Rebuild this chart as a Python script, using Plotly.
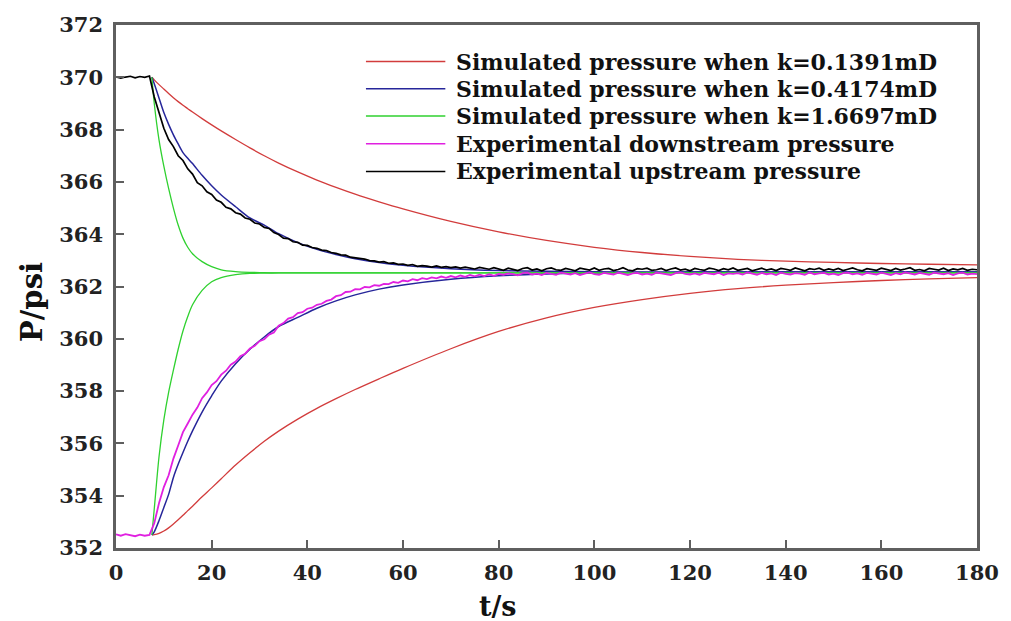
import plotly.graph_objects as go

# ---- simulated curves (time grid shared by all simulations) ----
t_sim = [7.5, 8, 9, 10, 11, 12, 13, 14, 15, 16, 18, 20, 22, 25, 28, 31, 34, 38, 42, 46,
         50, 55, 60, 70, 80, 90, 100, 110, 120, 130, 140, 150, 160, 170, 180]

k0139_up = [370.0, 369.9, 369.72, 369.55, 369.38, 369.22, 369.07, 368.93, 368.8, 368.67,
            368.42, 368.18, 367.95, 367.62, 367.3, 367.0, 366.72, 366.38, 366.07, 365.79,
            365.53, 365.24, 364.97, 364.49, 364.09, 363.76, 363.5, 363.3, 363.15, 363.04,
            362.97, 362.92, 362.88, 362.85, 362.83]
k0139_down = [352.5, 352.51, 352.56, 352.65, 352.77, 352.92, 353.08, 353.25, 353.43, 353.6,
              353.96, 354.3, 354.65, 355.17, 355.64, 356.08, 356.47, 356.93, 357.34, 357.71,
              358.06, 358.47, 358.87, 359.62, 360.28, 360.8, 361.2, 361.5, 361.74, 361.92,
              362.05, 362.15, 362.23, 362.29, 362.34]

k0417_up = [370.0, 369.75, 369.2, 368.65, 368.2, 367.8, 367.45, 367.12, 366.9, 366.7,
            366.25, 365.85, 365.5, 365.05, 364.62, 364.35, 364.02, 363.68, 363.42, 363.22,
            363.06, 362.92, 362.81, 362.68, 362.61, 362.58, 362.56, 362.55, 362.55, 362.55,
            362.55, 362.55, 362.55, 362.55, 362.55]
k0417_down = [352.5, 352.62, 353.05, 353.55, 354.05, 354.7, 355.2, 355.65, 356.08, 356.48,
              357.2, 357.82, 358.38, 359.05, 359.6, 360.07, 360.47, 360.82, 361.17, 361.45,
              361.68, 361.9, 362.06, 362.28, 362.41, 362.48, 362.52, 362.54, 362.55, 362.55,
              362.55, 362.55, 362.55, 362.55, 362.55]

k1670_up = [370.0, 369.0, 367.6, 366.6, 365.75, 365.0, 364.35, 363.85, 363.5, 363.25,
            362.95, 362.76, 362.64, 362.57, 362.54, 362.53, 362.52, 362.52, 362.52, 362.52,
            362.52, 362.52, 362.52, 362.52, 362.52, 362.52, 362.52, 362.52, 362.52, 362.52,
            362.52, 362.52, 362.52, 362.52, 362.52]
k1670_down = [352.5, 353.5, 355.5, 356.9, 357.95, 358.8, 359.6, 360.3, 360.85, 361.3,
              361.85, 362.18, 362.34, 362.45, 362.5, 362.51, 362.52, 362.52, 362.52, 362.52,
              362.52, 362.52, 362.52, 362.52, 362.52, 362.52, 362.52, 362.52, 362.52, 362.52,
              362.52, 362.52, 362.52, 362.52, 362.52]

# ---- measured pressures, sampled every second ----
t_exp = list(range(0, 181))

upstream_exp = [
    370.02, 369.97, 370.01, 370.04, 369.98, 370.03, 370.0, 370.05, 369.25, 368.62,
    368.05, 367.62, 367.35, 367.0, 366.82, 366.5, 366.3, 365.97, 365.85, 365.62,
    365.52, 365.31, 365.22, 365.03, 364.97, 364.82, 364.77, 364.62, 364.57, 364.43,
    364.39, 364.26, 364.22, 364.06, 363.99, 363.85, 363.83, 363.71, 363.69, 363.58,
    363.57, 363.49, 363.46, 363.39, 363.37, 363.3, 363.27, 363.21, 363.2, 363.12,
    363.1, 363.06, 363.05, 362.99, 362.98, 362.93, 362.95, 362.89, 362.9, 362.85,
    362.86, 362.81, 362.84, 362.77, 362.8, 362.78, 362.74, 362.79, 362.73, 362.76,
    362.72, 362.75, 362.7, 362.74, 362.71, 362.67, 362.73, 362.69, 362.66, 362.72,
    362.68, 362.62, 362.7, 362.66, 362.61, 362.69, 362.72, 362.63, 362.67, 362.6,
    362.68, 362.71, 362.64, 362.62, 362.69, 362.65, 362.6, 362.7, 362.66, 362.63,
    362.71, 362.62, 362.67, 362.69, 362.61, 362.65, 362.72, 362.63, 362.6, 362.68,
    362.66, 362.7, 362.62, 362.64, 362.69, 362.61, 362.67, 362.71, 362.63, 362.66,
    362.6, 362.69, 362.65, 362.62, 362.7, 362.67, 362.61, 362.68, 362.64, 362.71,
    362.62, 362.66, 362.69, 362.6, 362.65, 362.7, 362.63, 362.67, 362.61, 362.69,
    362.66, 362.62, 362.71, 362.64, 362.6, 362.68, 362.65, 362.7, 362.62, 362.67,
    362.63, 362.69, 362.61, 362.66, 362.71, 362.64, 362.6, 362.68, 362.65, 362.62,
    362.7, 362.66, 362.61, 362.69, 362.63, 362.67, 362.72, 362.62, 362.65, 362.6,
    362.69, 362.66, 362.63, 362.7, 362.61, 362.67, 362.64, 362.69, 362.62, 362.66,
    362.64]

downstream_exp = [
    352.52, 352.47, 352.53, 352.48, 352.45, 352.51, 352.47, 352.5, 352.95, 353.72,
    354.33, 354.78, 355.42, 355.92, 356.43, 356.76, 357.1, 357.37, 357.73, 357.95,
    358.23, 358.38, 358.63, 358.78, 359.01, 359.13, 359.33, 359.43, 359.63, 359.73,
    359.91, 359.98, 360.16, 360.24, 360.5, 360.6, 360.77, 360.83, 360.98, 361.02,
    361.15, 361.19, 361.3, 361.34, 361.45, 361.5, 361.63, 361.67, 361.79, 361.8,
    361.9, 361.89, 361.98, 361.97, 362.05, 362.03, 362.1, 362.09, 362.17, 362.14,
    362.23, 362.2, 362.28, 362.24, 362.32, 362.28, 362.35, 362.31, 362.38, 362.33,
    362.4, 362.35, 362.42, 362.37, 362.44, 362.39, 362.45, 362.4, 362.47, 362.41,
    362.48, 362.45, 362.5, 362.47, 362.43, 362.51, 362.53, 362.46, 362.49, 362.44,
    362.52, 362.48, 362.45, 362.53, 362.5, 362.46, 362.51, 362.44, 362.49, 362.54,
    362.47, 362.45, 362.52, 362.49, 362.46, 362.53, 362.48, 362.44, 362.5, 362.52,
    362.46, 362.49, 362.45, 362.53, 362.5, 362.47, 362.44, 362.51, 362.54, 362.48,
    362.46, 362.5, 362.45, 362.52, 362.49, 362.47, 362.53, 362.44, 362.5, 362.48,
    362.51, 362.46, 362.54, 362.49, 362.45, 362.52, 362.47, 362.5, 362.44, 362.53,
    362.48, 362.46, 362.51, 362.49, 362.45, 362.54, 362.47, 362.5, 362.52, 362.46,
    362.49, 362.44, 362.51, 362.53, 362.47, 362.5, 362.45, 362.52, 362.48, 362.46,
    362.53, 362.49, 362.44, 362.51, 362.47, 362.54, 362.5, 362.46, 362.52, 362.48,
    362.45, 362.53, 362.49, 362.47, 362.51, 362.44, 362.5, 362.53, 362.46, 362.49,
    362.47]

legend_labels = [
    "Simulated pressure when k=0.1391mD",
    "Simulated pressure when k=0.4174mD",
    "Simulated pressure when k=1.6697mD",
    "Experimental downstream pressure",
    "Experimental upstream pressure",
]
x_ticks = [0, 20, 40, 60, 80, 100, 120, 140, 160, 180]
y_ticks = [352, 354, 356, 358, 360, 362, 364, 366, 368, 370, 372]

RED, BLUE, GREEN, MAGENTA, BLACK = "#d23c3c", "#26269a", "#2fd12f", "#e020e0", "#000000"
AXIS = "#5f5f5f"
FONT = "DejaVu Serif"

fig = go.Figure()

sim_sets = [
    (k0139_up, k0139_down, RED, legend_labels[0], 1.3),
    (k0417_up, k0417_down, BLUE, legend_labels[1], 1.5),
    (k1670_up, k1670_down, GREEN, legend_labels[2], 1.3),
]
for up, down, color, name, w in sim_sets:
    for ys in (up, down):
        fig.add_trace(go.Scatter(x=t_sim, y=ys, mode="lines", name=name, legendgroup=name,
                                 line=dict(color=color, width=w, shape="spline", smoothing=0.8),
                                 showlegend=False))

fig.add_trace(go.Scatter(x=t_exp, y=downstream_exp, mode="lines", name=legend_labels[3],
                         line=dict(color=MAGENTA, width=1.8), showlegend=False))
fig.add_trace(go.Scatter(x=t_exp, y=upstream_exp, mode="lines", name=legend_labels[4],
                         line=dict(color=BLACK, width=1.7), showlegend=False))

# legend drawn as short line samples with labels inside the plot area
legend_colors = [RED, BLUE, GREEN, MAGENTA, BLACK]
legend_rows = [0.930, 0.878, 0.826, 0.773, 0.720]
for label, color, yr in zip(legend_labels, legend_colors, legend_rows):
    fig.add_shape(type="line", xref="paper", yref="paper", x0=0.2903, x1=0.3825, y0=yr, y1=yr,
                  line=dict(color=color, width=1.5))
    fig.add_annotation(xref="paper", yref="paper", x=0.3929, y=yr, text=label, showarrow=False,
                       xanchor="left", yanchor="middle",
                       font=dict(family=FONT, size=22, color="#111111", weight="bold"))

# axis titles
fig.add_annotation(xref="paper", yref="paper", x=(501 - 116) / 868, y=(548 - 607) / 528,
                   text="t/s", showarrow=False, xanchor="center", yanchor="middle",
                   font=dict(family=FONT, size=27, color="#111111", weight="bold"))
fig.add_annotation(xref="paper", yref="paper", x=(32 - 116) / 868, y=(548 - 300) / 528,
                   text="P/psi", showarrow=False, textangle=-90, xanchor="center", yanchor="middle",
                   font=dict(family=FONT, size=29, color="#111111", weight="bold"))

axis_common = dict(showgrid=False, zeroline=False, showline=True, linecolor=AXIS, linewidth=2.5,
                   mirror=True, ticks="inside", ticklen=8, tickwidth=2, tickcolor=AXIS,
                   tickfont=dict(family=FONT, size=21, color="#222222", weight="bold"))

fig.update_xaxes(range=[0, 180], tickvals=x_ticks, ticktext=[str(v) for v in x_ticks],
                 ticklabelstandoff=4, **axis_common)
fig.update_yaxes(range=[352, 372], tickvals=y_ticks, ticktext=[str(v) for v in y_ticks],
                 ticklabelstandoff=6, **axis_common)

fig.update_layout(width=1011, height=621, margin=dict(l=116, r=27, t=20, b=73),
                  plot_bgcolor="white", paper_bgcolor="white", showlegend=False)

fig.write_html("out.html")
